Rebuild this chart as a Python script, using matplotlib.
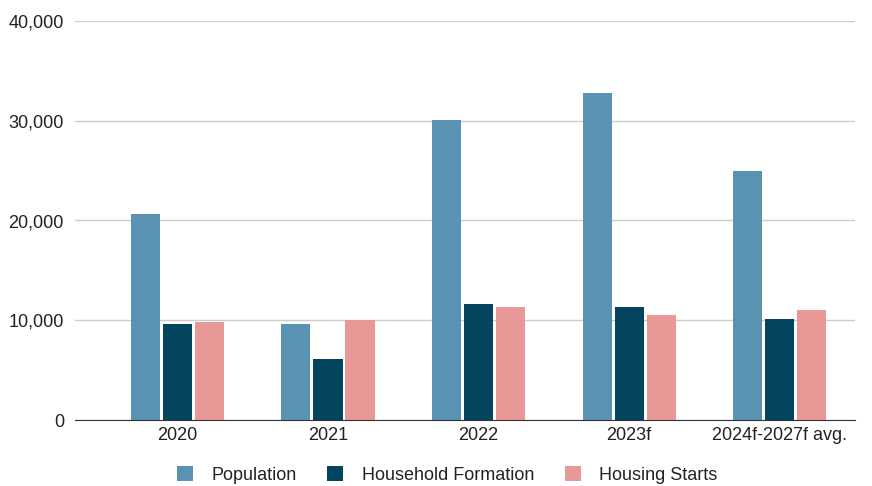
import numpy as np
import matplotlib.pyplot as plt
from matplotlib.ticker import FuncFormatter

plt.rcParams['font.family'] = ['Liberation Sans', 'DejaVu Sans']

categories = ['2020', '2021', '2022', '2023f', '2024f-2027f avg.']
population = [20700, 9600, 30100, 32800, 25000]
household_formation = [9600, 6100, 11600, 11300, 10100]
housing_starts = [9800, 10000, 11300, 10500, 11000]

colors = ['#5a93b1', '#03455f', '#e99898']
names = ['Population', 'Household Formation', 'Housing Starts']

fig = plt.figure(figsize=(8.72, 4.86), dpi=100)
ax = fig.add_axes([75 / 872, 66 / 486, 780 / 872, 399 / 486])

x = np.arange(len(categories))
w = 0.193
step = 0.2126
for i, (vals, c, n) in enumerate(zip([population, household_formation, housing_starts], colors, names)):
    ax.bar(x + (i - 1) * step, vals, width=w, color=c, label=n, zorder=3)

ax.set_xlim(-0.68, 4.5)
ax.set_ylim(0, 40000)
ax.set_yticks([0, 10000, 20000, 30000, 40000])
ax.yaxis.set_major_formatter(FuncFormatter(lambda v, p: f'{int(v):,}'))
ax.set_xticks(x)
ax.set_xticklabels(categories)
ax.grid(axis='y', color='#cccccc', linewidth=1, zorder=0)
ax.tick_params(length=0, labelsize=13, labelcolor='#222222')
ax.tick_params(axis='y', pad=8)
ax.tick_params(axis='x', pad=5)
for s in ['top', 'right', 'left']:
    ax.spines[s].set_visible(False)
ax.spines['bottom'].set_color('#333333')
ax.spines['bottom'].set_zorder(4)

ax.legend(loc='upper center', bbox_to_anchor=(0.477, -0.075), ncol=3, frameon=False,
          fontsize=13, handlelength=0.9, handleheight=0.9, columnspacing=1.7, handletextpad=1.0,
          labelcolor='#222222')

fig.savefig('out.png', dpi=100)
